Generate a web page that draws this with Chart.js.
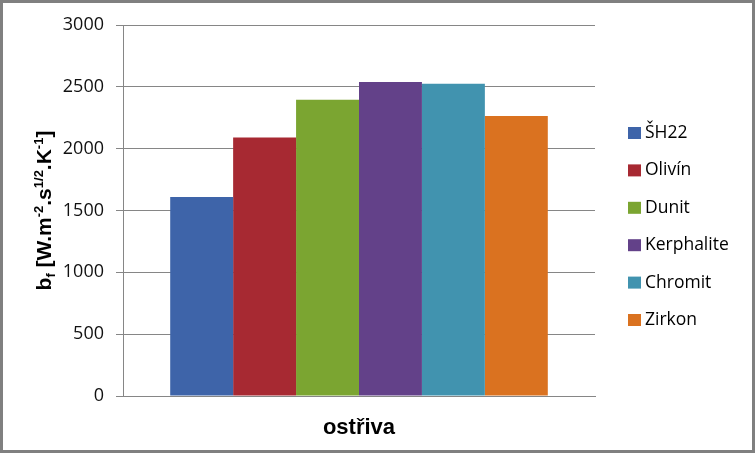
<!DOCTYPE html>
<html>
<head>
<meta charset="utf-8">
<script src="https://cdn.jsdelivr.net/npm/chart.js@4"></script>
<style>
  html, body { margin: 0; padding: 0; background: #fff; }
  #wrap { width: 755px; height: 453px; position: relative; }
</style>
</head>
<body>
<div id="wrap"><canvas id="chart"></canvas></div>
<script>
const categories = ['ostřiva'];
const seriesNames = ['ŠH22', 'Olivín', 'Dunit', 'Kerphalite', 'Chromit', 'Zirkon'];
const seriesValues = [1610, 2090, 2395, 2540, 2525, 2265];
const seriesColors = ['#3e64a9', '#a72932', '#7ba531', '#634189', '#4193af', '#da7220'];
const yTicks = [0, 500, 1000, 1500, 2000, 2500, 3000];

// y axis title with sub/superscripts
const yTitleParts = [
  { t: 'b' }, { t: 'f', sub: true }, { t: ' [W.m' }, { t: '-2', sup: true },
  { t: '.s' }, { t: '1/2', sup: true }, { t: '.K' }, { t: '-1', sup: true }, { t: ']' }
];

const decorations = {
  id: 'decorations',
  afterDraw(chart) {
    const ctx = chart.ctx;
    const area = chart.chartArea;
    ctx.save();

    // y title
    const big = 'bold 21px "Liberation Sans", Arial, sans-serif';
    const small = 'bold 13px "Liberation Sans", Arial, sans-serif';
    let total = 0;
    yTitleParts.forEach(p => {
      ctx.font = (p.sub || p.sup) ? small : big;
      p.w = ctx.measureText(p.t).width;
      total += p.w;
    });
    ctx.translate(51, (area.top + area.bottom) / 2);
    ctx.rotate(-Math.PI / 2);
    ctx.fillStyle = '#000';
    ctx.textBaseline = 'alphabetic';
    let x = -total / 2;
    yTitleParts.forEach(p => {
      ctx.font = (p.sub || p.sup) ? small : big;
      const dy = p.sup ? -8 : (p.sub ? 4 : 0);
      ctx.fillText(p.t, x, dy);
      x += p.w;
    });
    ctx.setTransform(1, 0, 0, 1, 0, 0);
    ctx.scale(chart.currentDevicePixelRatio, chart.currentDevicePixelRatio);

    // x title
    ctx.font = 'bold 22px "Liberation Sans", Arial, sans-serif';
    ctx.textAlign = 'center';
    ctx.textBaseline = 'middle';
    ctx.fillText(categories[0], (area.left + area.right) / 2, 428);

    // legend
    ctx.font = '17.5px "Open Sans", sans-serif';
    ctx.textAlign = 'left';
    chart.data.datasets.forEach((ds, i) => {
      const cy = 133 + i * 37.4;
      ctx.fillStyle = ds.backgroundColor;
      ctx.fillRect(628, cy - 6, 13, 12);
      ctx.fillStyle = '#000';
      ctx.fillText(ds.label, 645, cy);
    });

    // outer border
    ctx.strokeStyle = '#808080';
    ctx.lineWidth = 3;
    ctx.strokeRect(1.5, 1.5, 752, 450);
    ctx.restore();
  }
};

new Chart(document.getElementById('chart'), {
  type: 'bar',
  data: {
    labels: categories,
    datasets: seriesNames.map((name, i) => ({
      label: name,
      data: [seriesValues[i]],
      backgroundColor: seriesColors[i],
      borderWidth: 0,
      categoryPercentage: 0.8,
      barPercentage: 1
    }))
  },
  options: {
    responsive: true,
    maintainAspectRatio: false,
    animation: false,
    layout: { padding: { top: 25, right: 160, bottom: 0, left: 0 } },
    plugins: { legend: { display: false }, tooltip: { enabled: false } },
    scales: {
      x: {
        ticks: { display: false },
        grid: { display: false, drawTicks: false },
        border: { color: '#868686', width: 1 },
        afterFit(scale) { scale.height = 57; }
      },
      y: {
        min: 0,
        max: 3000,
        afterBuildTicks(scale) { scale.ticks = yTicks.map(v => ({ value: v })); },
        ticks: {
          padding: 12,
          color: '#111',
          font: { family: '"Open Sans", sans-serif', size: 18 },
          callback: v => String(v)
        },
        grid: { color: '#868686', lineWidth: 1, tickLength: 7 },
        border: { color: '#868686', width: 1 },
        afterFit(scale) { scale.width = 123; }
      }
    }
  },
  plugins: [decorations]
});
</script>
</body>
</html>
